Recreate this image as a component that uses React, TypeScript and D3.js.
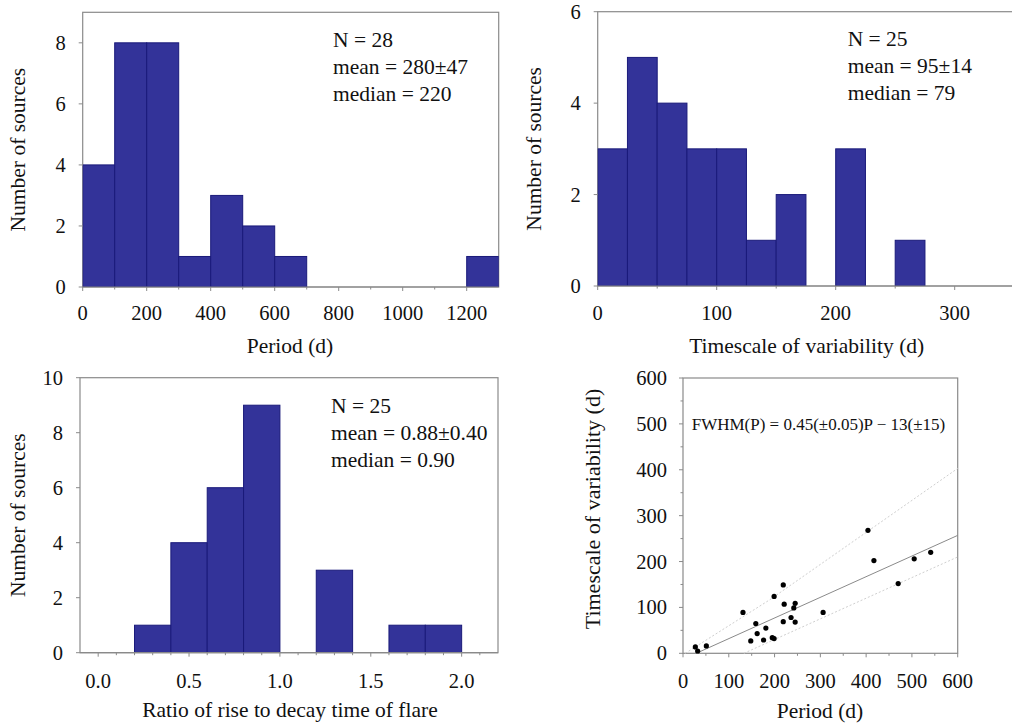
import React from "react";
import * as d3 from "d3";

// ---------- data ----------
const periodBinStart = 0;
const periodBinWidth = 100;
const periodCounts = [4, 8, 8, 1, 3, 2, 1, 0, 0, 0, 0, 0, 1];
const periodStats = ["N = 28", "mean = 280±47", "median = 220"];

const timescaleBinStart = 0;
const timescaleBinWidth = 25;
const timescaleCounts = [3, 5, 4, 3, 3, 1, 2, 0, 3, 0, 1];
const timescaleStats = ["N = 25", "mean = 95±14", "median = 79"];

const ratioBinStart = 0;
const ratioBinWidth = 0.2;
const ratioCounts = [0, 1, 4, 6, 9, 0, 3, 0, 1, 1];
const ratioStats = ["N = 25", "mean = 0.88±0.40", "median = 0.90"];

const scatterPeriod = [27, 32, 51, 131, 148, 159, 162, 176, 181, 195, 199, 199, 219, 221, 219, 236, 242, 245, 245, 306, 404, 417, 470, 505, 541];
const scatterTimescale = [14, 5, 16, 89, 27, 65, 43, 29, 55, 34, 32, 124, 149, 107, 69, 78, 99, 109, 68, 89, 268, 202, 152, 206, 220];
const fitLine = [[29, 0], [600, 257]];
const upperBand = [[5, 0], [190, 117], [600, 403]];
const lowerBand = [[133, 0], [600, 210]];
const fitLabel = "FWHM(P) = 0.45(±0.05)P − 13(±15)";

const FONT = "'Liberation Serif', 'Times New Roman', serif";
const BAR_FILL = "#333399";
const BAR_STROKE = "#1a1a7a";
const FRAME = "#8a8a8a";

type HistProps = {
  xDomain: [number, number];
  xRange: [number, number];
  yDomain: [number, number];
  yRange: [number, number];
  binStart: number;
  binWidth: number;
  counts: number[];
  xMajor: number[];
  xMinor: number[];
  xFmt: (v: number) => string;
  yMajor: number[];
  yMinor: number[];
  stats: string[];
  statsX: number;
  statsY: number;
  xTitle: string;
  xTitleX: number;
  xTitleY: number;
  yTitleX: number;
  labelOffset: number;
  clipId: string;
};

function Histogram(p: HistProps) {
  const x = d3.scaleLinear().domain(p.xDomain).range(p.xRange);
  const y = d3.scaleLinear().domain(p.yDomain).range(p.yRange);
  const [x0, x1] = p.xRange;
  const [yb, yt] = p.yRange;
  const bins = p.counts.map((c, i) => ({
    lo: p.binStart + i * p.binWidth,
    hi: p.binStart + (i + 1) * p.binWidth,
    c,
  }));
  return (
    <g>
      <defs>
        <clipPath id={p.clipId}>
          <rect x={x0} y={yt} width={x1 - x0} height={yb - yt} />
        </clipPath>
      </defs>
      <rect x={x0} y={yt} width={x1 - x0} height={yb - yt} fill="none" stroke={FRAME} strokeWidth={1.2} />
      <g clipPath={`url(#${p.clipId})`}>
        {bins
          .filter((b) => b.c > 0)
          .map((b, i) => (
            <rect
              key={i}
              x={x(b.lo)}
              y={y(b.c)}
              width={x(b.hi) - x(b.lo)}
              height={y(0) - y(b.c)}
              fill={BAR_FILL}
              stroke={BAR_STROKE}
              strokeWidth={1}
            />
          ))}
      </g>
      {/* x axis */}
      <line x1={x0} x2={x1} y1={yb} y2={yb} stroke={FRAME} strokeWidth={1.2} />
      {p.xMinor.map((v, i) => (
        <line key={"xm" + i} x1={x(v)} x2={x(v)} y1={yb} y2={yb + 2.5} stroke={FRAME} />
      ))}
      {p.xMajor.map((v, i) => (
        <g key={"xM" + i}>
          <line x1={x(v)} x2={x(v)} y1={yb} y2={yb + 4} stroke={FRAME} />
          <text x={x(v)} y={yb + p.labelOffset} textAnchor="middle" fontSize={20.5} fontFamily={FONT} fill="#111">
            {p.xFmt(v)}
          </text>
        </g>
      ))}
      {/* y axis */}
      {p.yMinor.map((v, i) => (
        <line key={"ym" + i} x1={x0 - 2.5} x2={x0} y1={y(v)} y2={y(v)} stroke={FRAME} />
      ))}
      {p.yMajor.map((v, i) => (
        <g key={"yM" + i}>
          <line x1={x0 - 4} x2={x0} y1={y(v)} y2={y(v)} stroke={FRAME} />
          <text x={x0 - 17} y={y(v) + 7} textAnchor="end" fontSize={20.5} fontFamily={FONT} fill="#111">
            {v}
          </text>
        </g>
      ))}
      {p.stats.map((s, i) => (
        <text key={"s" + i} x={p.statsX} y={p.statsY + i * 27} fontSize={21.5} fontFamily={FONT} fill="#111">
          {s}
        </text>
      ))}
      <text x={p.xTitleX} y={p.xTitleY} textAnchor="middle" fontSize={21.5} fontFamily={FONT} fill="#111">
        {p.xTitle}
      </text>
      <text
        transform={`translate(${p.yTitleX},${(yb + yt) / 2}) rotate(-90)`}
        textAnchor="middle"
        fontSize={21.5}
        fontFamily={FONT}
        fill="#111"
      >
        Number of sources
      </text>
    </g>
  );
}

function Scatter() {
  const x = d3.scaleLinear().domain([0, 600]).range([683, 957.7]);
  const y = d3.scaleLinear().domain([0, 600]).range([653.3, 378]);
  const line = d3
    .line<number[]>()
    .x((d) => x(d[0]))
    .y((d) => y(d[1]));
  const major = d3.range(0, 601, 100);
  const minor = d3.range(50, 600, 100);
  const yb = y(0);
  const x0 = x(0);
  return (
    <g>
      <rect x={x0} y={y(600)} width={x(600) - x0} height={yb - y(600)} fill="none" stroke={FRAME} strokeWidth={1.2} />
      <path d={line(upperBand) || ""} fill="none" stroke="#cfcfcf" strokeWidth={1} strokeDasharray="2,2" />
      <path d={line(lowerBand) || ""} fill="none" stroke="#cfcfcf" strokeWidth={1} strokeDasharray="2,2" />
      <path d={line(fitLine) || ""} fill="none" stroke="#8a8a8a" strokeWidth={1} />
      {scatterPeriod.map((p, i) => (
        <circle key={i} cx={x(p)} cy={y(scatterTimescale[i])} r={2.6} fill="#000" />
      ))}
      {minor.map((v, i) => (
        <g key={"m" + i}>
          <line x1={x(v)} x2={x(v)} y1={yb} y2={yb + 2.5} stroke={FRAME} />
          <line x1={x0 - 2.5} x2={x0} y1={y(v)} y2={y(v)} stroke={FRAME} />
        </g>
      ))}
      {major.map((v, i) => (
        <g key={"M" + i}>
          <line x1={x(v)} x2={x(v)} y1={yb} y2={yb + 4} stroke={FRAME} />
          <text x={x(v)} y={yb + 35} textAnchor="middle" fontSize={20.5} fontFamily={FONT} fill="#111">
            {v}
          </text>
          <line x1={x0 - 4} x2={x0} y1={y(v)} y2={y(v)} stroke={FRAME} />
          <text x={x0 - 16} y={y(v) + 7} textAnchor="end" fontSize={20.5} fontFamily={FONT} fill="#111">
            {v}
          </text>
        </g>
      ))}
      <text x={691.7} y={430} fontSize={17} fontFamily={FONT} fill="#111">
        {fitLabel}
      </text>
      <text x={820} y={718} textAnchor="middle" fontSize={21.5} fontFamily={FONT} fill="#111">
        Period (d)
      </text>
      <text transform={`translate(600,509) rotate(-90)`} textAnchor="middle" fontSize={22} fontFamily={FONT} fill="#111">
        Timescale of variability (d)
      </text>
    </g>
  );
}

export default function App() {
  return (
    <svg
      width={1012}
      height={726}
      style={{ position: "absolute", left: 0, top: 0, background: "#fff" }}
    >
      <rect x={0} y={0} width={1012} height={726} fill="#fff" />
      <Histogram
        xDomain={[0, 1300]}
        xRange={[82.7, 498.7]}
        yDomain={[0, 9]}
        yRange={[287, 12.3]}
        binStart={periodBinStart}
        binWidth={periodBinWidth}
        counts={periodCounts}
        xMajor={d3.range(0, 1201, 200)}
        xMinor={d3.range(100, 1300, 200)}
        xFmt={(v) => String(v)}
        yMajor={d3.range(0, 9, 2)}
        yMinor={[]}
        stats={periodStats}
        statsX={333}
        statsY={46.7}
        xTitle="Period (d)"
        xTitleX={290}
        xTitleY={353}
        yTitleX={25}
        labelOffset={33}
        clipId="c1"
      />
      <Histogram
        xDomain={[0, 350]}
        xRange={[597.7, 1014.2]}
        yDomain={[0, 6]}
        yRange={[286, 11.7]}
        binStart={timescaleBinStart}
        binWidth={timescaleBinWidth}
        counts={timescaleCounts}
        xMajor={d3.range(0, 301, 100)}
        xMinor={d3.range(50, 350, 100)}
        xFmt={(v) => String(v)}
        yMajor={d3.range(0, 7, 2)}
        yMinor={[]}
        stats={timescaleStats}
        statsX={847.7}
        statsY={46}
        xTitle="Timescale of variability (d)"
        xTitleX={806.7}
        xTitleY={353}
        yTitleX={541}
        labelOffset={33.5}
        clipId="c2"
      />
      <Histogram
        xDomain={[-0.1, 2.2]}
        xRange={[80, 498]}
        yDomain={[0, 10]}
        yRange={[652.7, 377.7]}
        binStart={ratioBinStart}
        binWidth={ratioBinWidth}
        counts={ratioCounts}
        xMajor={[0, 0.5, 1, 1.5, 2]}
        xMinor={d3.range(0, 22).map((i) => i / 10).filter((v) => Math.abs(v * 2 - Math.round(v * 2)) > 1e-6)}
        xFmt={(v) => v.toFixed(1)}
        yMajor={d3.range(0, 11, 2)}
        yMinor={[]}
        stats={ratioStats}
        statsX={331}
        statsY={412.7}
        xTitle="Ratio of rise to decay time of flare"
        xTitleX={290}
        xTitleY={717}
        yTitleX={25}
        labelOffset={35}
        clipId="c3"
      />
      <Scatter />
    </svg>
  );
}
